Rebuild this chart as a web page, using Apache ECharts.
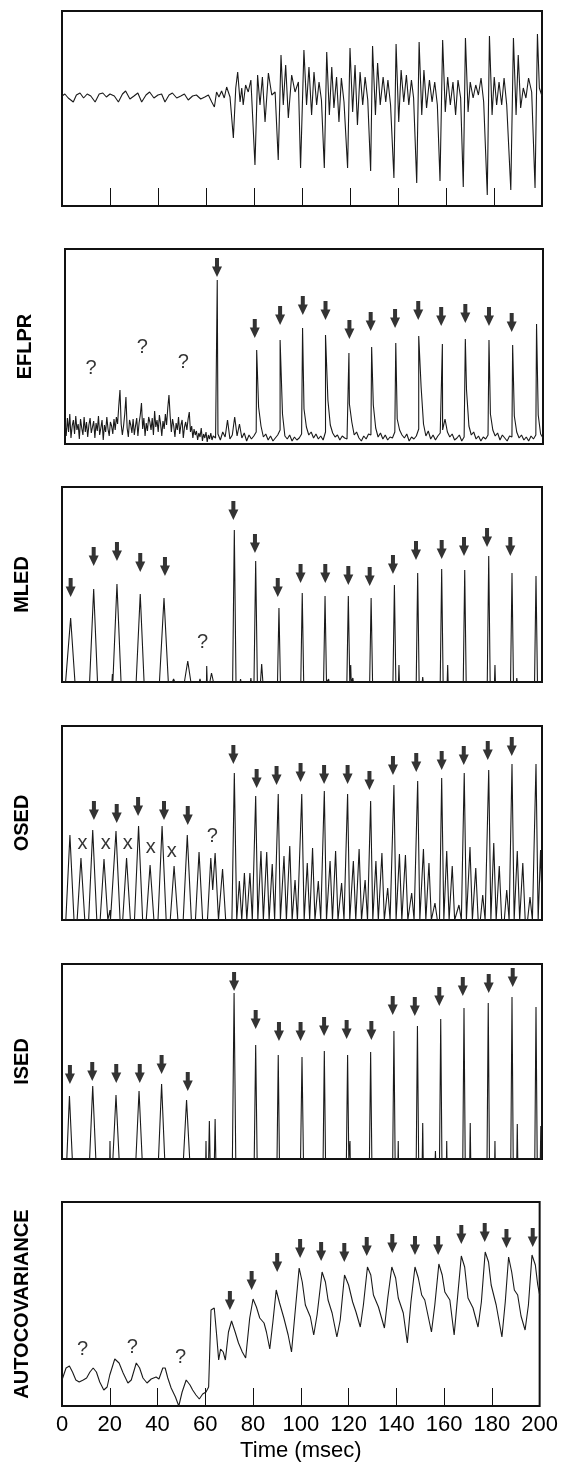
<!DOCTYPE html>
<html>
<head>
<meta charset="utf-8">
<script src="https://cdn.jsdelivr.net/npm/echarts@6/dist/echarts.min.js"></script>
<style>
html,body{margin:0;padding:0;background:#fff}
#chart{width:561px;height:1464px}
</style>
</head>
<body>
<div id="chart"></div>
<script>
// time axis (msec)
var timeTicks = [0, 20, 40, 60, 80, 100, 120, 140, 160, 180, 200];
var panelNames = ['', 'EFLPR', 'MLED', 'OSED', 'ISED', 'AUTOCOVARIANCE'];

// panel 1: raw recording [t, amplitude]
var rawSignal = [
	[0,110],[1.2,112],[2.6,108],[4.7,104],[6,111],[7.5,113],[9,108],[10.5,112],[12,110],[13.8,104],[15.5,112],[17,113],[18.5,109],[20,112],
	[21.8,110],[23.5,104],[25.2,112],[26.5,115],[28.3,107],[30,110],[31.6,113],[33.2,104],[35,111],[36.5,114],[38.3,108],[40,111],[41.5,112],
	[42.9,104],[44.6,111],[46,113],[47.8,108],[49.5,110],[51,112],[52.6,106],[54.4,110],[56,111],[57.8,107],[59.5,109],[61,111],
	[62.4,104],[63.5,99],[64.4,114],[65.4,109],[66.5,115],[67.6,108],[68.6,119],[70,109],[71.4,68],[72.4,118],[73.2,134],[74.2,104],
	[74.9,118],[75.5,101],[76.5,121],[77.6,114],[78.7,126],[80.4,41],[81.5,131],[82.5,101],[83.5,129],[84.6,84],[86,133],[87.4,111],
	[88.8,114],[90.1,46],[91.25,151],[92.2,101],[93.2,141],[94.3,88],[95.7,131],[97.1,114],[98.5,124],
	[99.4,38],[100.8,156],[101.9,101],[102.9,139],[104,91],[105,134],[106.1,101],[107.1,124],[108.1,106],
	[109.3,38],[110.3,154],[111.4,91],[112.4,139],[113.3,98],[114.4,129],[115.4,84],[116.4,128],[117.5,104],
	[119,38],[120,158],[121.1,94],[122.1,141],[123.1,81],[124.2,134],[125.3,101],[126.3,129],[127.4,106],
	[128.6,35],[129.4,160],[130.6,91],[131.5,143],[132.6,101],[133.8,129],[134.9,104],[135.8,126],[136.9,101],
	[138.3,28],[139.2,162],[140.3,84],[141.3,136],[142.4,104],[143.5,131],[144.5,101],[145.6,126],[146.5,108],
	[147.8,23],[148.8,164],[149.9,91],[150.8,136],[151.9,98],[153.1,126],[154.2,104],[155.3,124],[156.4,101],
	[157.5,25],[158.6,166],[159.7,94],[160.7,129],[161.8,101],[162.9,124],[164,91],[165,126],[166.1,108],
	[167.2,19],[168.1,168],[169.2,94],[170.1,124],[171.3,108],[172.4,121],[173.5,111],[174.6,128],[175.7,104],
	[177.2,11],[178.1,170],[179.2,91],[180.1,129],[181.1,101],[182.1,124],[183.2,101],[184.2,128],[185.3,101],
	[187,16],[188.1,168],[189.2,91],[190.1,151],[191.1,98],[192.2,118],[193.3,108],[194.4,128],[195.7,114],
	[197.1,18],[198.1,172],[198.9,118],[200,110]
];

// panel 2: EFLPR background, 0.5 ms samples from 0 to 62 ms
var eflprNoiseEarly = [
	22,8,26,12,30,6,18,24,10,28,14,20,5,25,16,9,27,12,22,7,19,26,11,17,23,
	6,21,13,28,9,16,24,4,19,12,27,15,8,22,18,10,25,14,27,20,38,54,20,9,18,
	30,47,16,7,24,19,11,25,9,18,26,8,21,29,41,15,26,8,21,13,27,22,14,26,9,
	33,17,24,12,29,20,8,23,15,30,19,36,49,28,12,25,18,7,21,14,27,10,19,24,6,
	17,22,14,25,32,12,18,6,15,9,13,4,11,7,16,3,10,6,12,2,9,5,11,4,8
];
// EFLPR background, 1 ms samples from 63 to 200 ms
var eflprNoiseLate = [
	6,10,4,12,7,24,5,9,27,8,
	20,6,11,3,9,5,8,12,37,18,
	7,10,4,8,3,6,9,14,30,8,
	5,9,3,7,4,6,10,35,17,9,
	12,6,10,5,8,4,12,44,19,11,
	7,9,4,8,6,5,40,22,9,12,
	6,3,8,5,10,9,39,16,7,11,
	5,9,4,7,6,12,25,14,9,6,
	10,3,7,5,8,15,57,20,8,13,
	5,9,4,8,11,14,25,12,7,10,
	4,6,9,3,7,54,18,9,12,5,
	8,3,7,5,9,30,14,8,11,4,
	9,6,3,8,7,28,12,6,9,4,
	7,3,8,5,9,29,10,6
];
var eflprSpikes = [[63.7,164],[80.2,94],[90,104],[99.4,116],[109,109],[118.8,91],[128.3,97],[138.4,101],[148,108],[157.9,100],[167.5,105],[177.4,104],[187.3,99],[197.3,120]];
var eflprArrows = [[63.6,167],[79.4,106],[90,119],[99.5,129],[109,124],[119,105],[127.9,113],[138.1,116],[147.8,124],[157.4,118],[167.5,121],[177.4,118],[186.9,112]];
var eflprQuery = [[10.9,76],[32.4,97],[49.5,82]];

// panel 3: MLED
var mledTrace = [
	[0,0],[1.5,0],[3.6,64],[5.4,0],[11.5,0],[13.2,93],[14.8,0],[20.8,0],[21,8],[21.2,0],[21.3,0],[22.9,98],[24.6,0],[30.9,0],[32.6,88],[34.2,0],
	[40.6,0],[42.5,84],[44.3,0],[46,0],[46.5,3],[47,0],[51,0],[52.4,21],[53.7,0],[57.2,0],[57.5,3],[57.8,0],[60.2,0],[60.3,16],[60.5,0],
	[61.6,0],[62.3,9],[63.1,0],[65.8,0],[66.1,2],[66.4,0],[71.1,0],[71.8,152],[72.5,0],[74.2,0],[74.4,3],[74.6,0],[78.5,0],[78.7,4],[78.9,0],
	[80,0],[80.7,121],[81.4,0],[82.7,0],[83.2,18],[83.7,0],[89.8,0],[90.4,74],[91,0],[92.5,0],[92.7,2],[92.9,0],[99.5,0],[100.1,89],[100.7,0],
	[109,0],[109.6,86],[110.2,0],[110.9,0],[111.1,3],[111.3,0],[118.7,0],[119.3,86],[119.9,0],[120.1,0],[120.3,17],[120.5,0],[121,0],[121.2,4],[121.4,0],
	[128.2,0],[128.8,84],[129.4,0],[137.9,0],[138.5,97],[139.1,0],[140.2,0],[140.4,17],[140.6,0],[147.6,0],[148.2,109],[148.8,0],[150.1,0],[150.3,5],[150.5,0],
	[157.6,0],[158.2,113],[158.8,0],[160.5,0],[160.7,17],[160.9,0],[167.2,0],[167.8,112],[168.4,0],[177.2,0],[177.8,126],[178.4,0],[180.2,0],[180.4,17],[180.6,0],
	[186.9,0],[187.5,109],[188.1,0],[189.3,0],[189.5,4],[189.7,0],[196.9,0],[197.5,106],[198.1,0],[200,0]
];
var mledArrows = [[3.6,85],[13.2,116],[22.9,121],[32.6,110],[42.9,106],[71.4,162],[80.4,129],[89.9,85],[99.4,99],[109.7,99],[119.3,97],[128.2,96],[137.9,108],[147.5,122],[158.2,123],[167.5,126],[177.1,135],[186.8,126]];
var mledQuery = [[58.6,40]];

// panel 4: OSED
var osedTrace = [
	[0,0],[1.6,0],[3.3,85],[5,0],[6.3,0],[7.9,62],[9.5,0],[11.1,0],[12.8,90],[14.5,0],[15.9,0],[17.5,61],[19.1,0],[19.8,0],[20,10],[20.2,0],
	[20.8,0],[22.5,89],[24.2,0],[25.3,0],[26.9,62],[28.5,0],[30.2,0],[31.9,94],[33.6,0],[35.1,0],[36.7,55],[38.3,0],[40,0],[41.7,94],[43.4,0],
	[45.1,0],[46.7,54],[48.3,0],[50.5,0],[52.2,85],[53.9,0],[55.6,0],[57.1,68],[58.6,0],[60.6,0],[62,62],[62.8,30],[63.8,67],[65.2,0],
	[65.6,0],[66.9,51],[68.2,0],[70.8,0],[71.8,147],[72.8,0],[72.9,0],[73.9,39],[74.9,0],[75,0],[76,47],[77,0],[77.3,0],[78.3,47],[79.3,0],
	[79.8,0],[80.7,124],[81.6,0],[81.9,0],[82.9,69],[83.9,0],[84.3,0],[85.3,68],[86.3,0],[86.6,0],[87.6,56],[88.6,0],[89.2,0],[90.1,126],[91,0],
	[91.5,0],[92.5,64],[93.5,0],[93.9,0],[94.9,74],[95.9,0],[96.1,0],[97.1,40],[98.1,0],[98.9,0],[99.9,126],[100.9,0],[101.2,0],[102.2,57],[103.2,0],
	[103.4,0],[104.4,72],[105.4,0],[105.8,0],[106.8,39],[107.8,0],[108.4,0],[109.3,129],[110.2,0],[110.7,0],[111.7,59],[112.7,0],[113,0],[114,69],[115,0],
	[115.5,0],[116.5,37],[117.5,0],[118.1,0],[119,126],[119.9,0],[120.4,0],[121.4,59],[122.4,0],[122.8,0],[123.8,71],[124.8,0],[125.3,0],[126.3,40],[127.3,0],
	[127.7,0],[128.6,119],[129.5,0],[129.8,0],[130.8,59],[131.8,0],[132.3,0],[133.3,67],[134.3,0],[134.7,0],[135.7,32],[136.7,0],[137.4,0],[138.3,135],[139.2,0],
	[139.6,0],[140.6,66],[141.6,0],[142.1,0],[143.1,65],[144.1,0],[144.7,0],[145.7,27],[146.7,0],[147.3,0],[148.2,139],[149.1,0],[149.6,0],[150.6,71],[151.6,0],
	[151.9,0],[152.9,57],[153.9,0],[154.4,0],[155.4,17],[156.4,0],[157.3,0],[158.2,142],[159.1,0],[159.3,0],[160.3,69],[161.3,0],[161.6,0],[162.6,54],[163.6,0],
	[164.4,0],[165.4,15],[166.4,0],[166.7,0],[167.6,147],[168.5,0],[169,0],[170,73],[171,0],[171.4,0],[172.4,52],[173.4,0],[174.3,0],[175.3,25],[176.3,0],
	[176.9,0],[177.8,150],[178.7,0],[178.9,0],[179.9,77],[180.9,0],[181.2,0],[182.2,54],[183.2,0],[184.3,0],[185.3,30],[186.3,0],[186.6,0],[187.5,156],[188.4,0],
	[188.7,0],[189.7,69],[190.7,0],[191,0],[192,57],[193,0],[194,0],[195,23],[196,0],[196.6,0],[197.5,156],[198.4,0],[198.6,0],[199.4,70],[200,20]
];
var osedArrows = [[13.3,100],[22.8,97],[31.7,104],[42.5,100],[52.4,95],[71.4,156],[81.1,132],[89.4,135],[99.4,138],[109.2,136],[119,136],[128.1,130],[137.9,145],[147.6,148],[158.2,150],[167.4,155],[177.4,160],[187.4,164]];
var osedCross = [[8.5,77],[18.2,77],[27.4,77],[37,73],[45.7,69]];
var osedQuery = [[62.6,84]];

// panel 5: ISED
var isedTrace = [
	[0,0],[2,0],[3.1,63],[4.3,0],[11.5,0],[12.8,73],[14.1,0],[19.9,0],[20,18],[20.1,0],[21.2,0],[22.5,64],[23.8,0],[30.8,0],[32.1,68],[33.4,0],
	[40.2,0],[41.5,75],[42.8,0],[50.6,0],[51.9,59],[53.2,0],[59.9,0],[60,18],[60.1,0],[61.1,0],[61.4,38],[61.7,0],[63.5,0],[63.8,40],[64.1,0],
	[71,0],[71.7,166],[72.4,0],[80.1,0],[80.7,114],[81.3,0],[89.6,0],[90.1,104],[90.6,0],[99.4,0],[100,102],[100.6,0],[108.8,0],[109.3,108],[109.8,0],
	[118.5,0],[119,104],[119.5,0],[119.9,0],[120,18],[120.1,0],[128.1,0],[128.6,107],[129.1,0],[137.8,0],[138.3,128],[138.8,0],[140,0],[140.1,18],[140.2,0],
	[147.6,0],[148.1,133],[148.6,0],[150.1,0],[150.3,36],[150.5,0],[155.5,0],[155.6,8],[155.7,0],[157.3,0],[157.8,140],[158.3,0],[160.2,0],[160.3,18],[160.4,0],
	[167,0],[167.5,151],[168,0],[169.9,0],[170.1,36],[170.3,0],[177.1,0],[177.6,156],[178.1,0],[180.3,0],[180.4,18],[180.5,0],
	[187,0],[187.5,162],[188,0],[189.5,0],[189.7,35],[189.9,0],[197,0],[197.5,152],[198,0],[199.3,0],[199.5,33],[199.7,0],[200,0]
];
var isedArrows = [[3.3,75],[12.6,78],[22.6,76],[32.4,76],[41.5,85],[52.4,68],[71.7,168],[80.7,130],[90.4,118],[99.4,118],[109.2,123],[118.6,120],[128.9,119],[137.8,144],[147,143],[157.2,153],[167,163],[177.8,166],[187.8,172]];

// panel 6: autocovariance
var autocovTrace = [
	[0,26],[0.6,28],[1.7,38],[3.1,40],[4.4,34],[5.8,26],[7.2,24],[8.9,26],[10.3,28],[11.7,34],[13.05,38],[14.4,34],[15.8,24],[17.5,16],[18.9,19],
	[20,31],[22.1,47],[23.9,43],[25.6,33],[27.6,23],[29,26],[31.1,43],[32.5,38],[33.9,28],[35.6,23],[37.35,27],[39.4,29],[40.6,27],[42.2,38],
	[43.2,38],[44.3,28],[45.7,18],[47.5,9],[48.9,0],[50.3,14],[52,26],[53.6,21],[54.7,16],[56.1,11],[57.5,7],[58.9,12],[60.3,14],[61.4,19],
	[62.4,96],[63.75,98],[64.75,71],[65.6,46],[66.4,57],[67.5,54],[68.4,46],[69.7,74],[71,85],[72.5,74],[73.9,63],[75.5,54],[76.9,48],[78.6,88],
	[80,107],[81.4,99],[82.8,88],[84.6,83],[85.6,74],[87,57],[88.3,84],[89.7,116],[91.1,103],[92.9,88],[94.7,71],[96.1,54],[97.5,91],[99.3,138],
	[100.6,124],[101.9,101],[104,89],[105.4,71],[106.8,91],[108.9,134],[110.3,124],[111.4,106],[113.1,93],[115.1,69],[116.5,86],[118.3,131],
	[120,121],[121.7,104],[123.1,94],[124.9,79],[126.2,101],[127.9,139],[129.3,131],[130.4,111],[132.5,99],[135,78],[136.4,108],[138.1,139],
	[139.7,128],[140.8,108],[142.9,93],[144.6,63],[146.1,104],[147.8,139],[149.2,128],[150.6,111],[151.9,106],[154.7,74],[156.1,101],[157.8,142],
	[159.2,131],[160.3,114],[162.4,106],[164.2,71],[165.6,108],[167.2,150],[168.6,139],[170,108],[172.1,98],[174.2,79],[175.6,104],[177.2,154],
	[178.6,144],[179.7,121],[181.8,101],[184.2,69],[185.6,104],[187,149],[188.3,134],[189.4,116],[190.8,111],[192.2,90],[193.9,76],[195.3,101],
	[196.8,151],[198.2,141],[199.2,121],[200,111]
];
var autocovArrows = [[70.3,96],[79.4,116],[90.1,134],[99.7,148],[108.5,145],[118.2,144],[127.6,150],[138.3,153],[147.8,151],[157.5,151],[167.2,162],[177,164],[186.1,158],[197.1,159]];
var autocovQuery = [[8.6,57],[29.4,59],[49.6,49]];

function $each(arr, fn){
	for (var i = 0; i < arr.length; i++) fn(arr[i], i);
}

/**
 * EFLPR trace: background samples plus the detected spikes, in time order
 */
function buildEflpr(){
	var pts = [];
	$each(eflprNoiseEarly, function(v, i){ pts.push([i * 0.5, v]); });
	$each(eflprNoiseLate, function(v, i){ pts.push([63 + i, v]); });
	pts = pts.concat(eflprSpikes);
	pts.sort(function(a, b){ return a[0] - b[0]; });
	return pts;
}

var FONT = 'Liberation Sans, Arial, Helvetica, sans-serif';
// down arrow, bottom tip at the data point
var ARROW = 'path://M3,0 L7,0 L7,9 L10,9 L5,20 L0,9 L3,9 Z';

// frame of each panel in the page
var panels = [
	{left: 62, top: 11, width: 480, height: 195},
	{left: 65, top: 249, width: 478, height: 195},
	{left: 62, top: 487, width: 480, height: 195},
	{left: 62, top: 726, width: 480, height: 194},
	{left: 62, top: 964, width: 480, height: 195},
	{left: 62, top: 1202, width: 480, height: 204}
];
var traces = [rawSignal, buildEflpr(), mledTrace, osedTrace, isedTrace, autocovTrace];
var arrows = [null, eflprArrows, mledArrows, osedArrows, isedArrows, autocovArrows];
var queries = [null, eflprQuery, mledQuery, osedQuery, null, autocovQuery];

var grids = [], xAxes = [], yAxes = [], series = [];

function textSeries(i, data, text){
	return {
		type: 'scatter', xAxisIndex: i, yAxisIndex: i, data: data,
		symbolSize: 1, silent: true,
		itemStyle: {color: 'rgba(0,0,0,0)'},
		label: {show: true, position: 'inside', formatter: text, color: '#000', fontSize: 20, fontFamily: FONT}
	};
}

$each(panels, function(p, i){
	var showTicks = (i === 0 || i === 5);
	grids.push({left: p.left, top: p.top, width: p.width, height: p.height,
		show: true, borderColor: '#111', borderWidth: 2, backgroundColor: 'transparent'});
	xAxes.push({
		gridIndex: i, type: 'value',
		min: timeTicks[0], max: timeTicks[timeTicks.length - 1], interval: timeTicks[1] - timeTicks[0],
		axisLine: {show: false}, splitLine: {show: false},
		axisTick: {show: showTicks, inside: true, length: 18, lineStyle: {color: '#111', width: 1}},
		axisLabel: {show: i === 5, color: '#000', fontSize: 22, fontFamily: FONT, margin: 8},
		name: i === 5 ? 'Time (msec)' : '',
		nameLocation: 'middle', nameGap: 34,
		nameTextStyle: {color: '#000', fontSize: 22, fontFamily: FONT}
	});
	yAxes.push({
		gridIndex: i, type: 'value', min: 0, max: p.height,
		axisLine: {show: false}, axisTick: {show: false}, axisLabel: {show: false}, splitLine: {show: false},
		name: panelNames[i], nameLocation: 'middle', nameRotate: 90, nameGap: 30,
		nameTextStyle: {color: '#000', fontSize: 20, fontWeight: 'bold', fontFamily: FONT}
	});
	series.push({
		type: 'line', xAxisIndex: i, yAxisIndex: i, data: traces[i],
		showSymbol: false, symbol: 'none', silent: true,
		lineStyle: {color: '#1a1a1a', width: 1.1}
	});
	if (arrows[i]) {
		series.push({
			type: 'scatter', xAxisIndex: i, yAxisIndex: i, data: arrows[i],
			symbol: ARROW, symbolSize: [10, 19], symbolOffset: [0, '-50%'], silent: true,
			itemStyle: {color: '#000'}
		});
	}
	if (queries[i]) series.push(textSeries(i, queries[i], '?'));
	if (i === 3) series.push(textSeries(i, osedCross, 'x'));
});

var myChart = echarts.init(document.getElementById('chart'));
myChart.setOption({
	animation: false,
	backgroundColor: '#fff',
	grid: grids,
	xAxis: xAxes,
	yAxis: yAxes,
	series: series
});
</script>
</body>
</html>
